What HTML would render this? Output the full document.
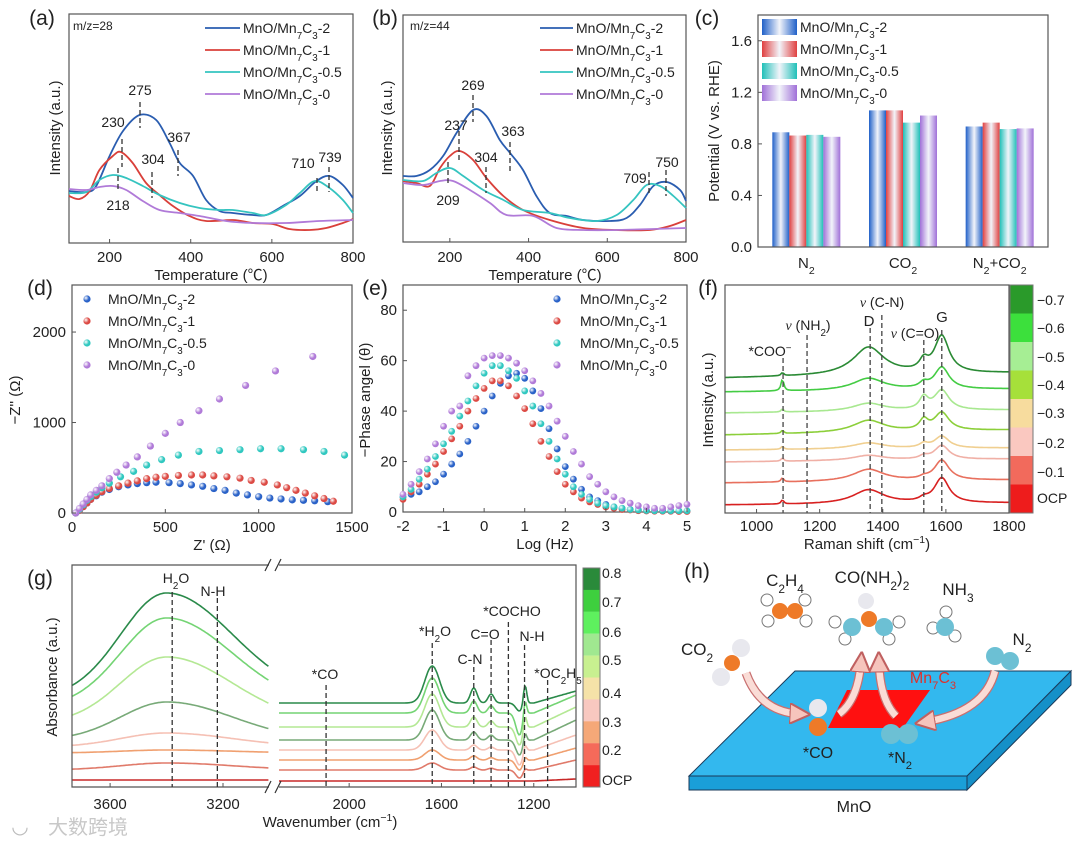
<!DOCTYPE html>
<html><head><meta charset="utf-8"><style>
html,body{margin:0;padding:0;background:#fff;}
svg{display:block;font-family:"Liberation Sans","Noto Sans CJK SC",sans-serif;}
</style></head><body>
<svg id="fig" width="1080" height="845" viewBox="0 0 1080 845" xmlns="http://www.w3.org/2000/svg">
<defs>
<marker id="ah" viewBox="0 0 10 10" refX="5" refY="5" markerWidth="3.2" markerHeight="3.2" orient="auto"><path d="M0,0 L10,5 L0,10 Z" fill="#f6c4bc" stroke="#c06060" stroke-width="1"/></marker>
</defs>
</svg>
<script>
// ---------- DATA ----------
// (a) TPD m/z=28
const aBlueT=[100,143,167,200,233,274,315,348,373,406,438,471,504,553,586,627,669,710,742,775,800];
const aBlueI=[52,51,57,87,112,128,123,100,80,67,43,32,30,28,28,37,47,62,67,58,45];
const aRedT=[100,126,151,175,208,228,257,290,323,356,397,438,504,553,602,643,693,734,775,800];
const aRedI=[47,44,52,73,87,91,80,60,48,37,27,22,23,20,19,14,13,15,20,24];
const aCyanT=[100,143,175,208,241,282,323,373,422,471,504,553,586,635,669,706,742,775,800];
const aCyanI=[50,51,63,68,65,57,48,40,35,33,33,30,28,38,50,62,55,43,30];
const aPurpT=[100,143,175,208,241,282,323,373,422,487,553,635,717,800];
const aPurpI=[54,53,56,57,53,42,33,30,27,22,20,20,22,23];
// (b) TPD m/z=44
const bBlueT=[81,115,149,183,217,259,293,327,353,386,420,454,497,539,607,649,683,717,751,785,800];
const bBlueI=[66,66,72,86,109,132,126,102,89,72,46,29,26,22,21,24,37,56,60,52,41];
const bRedT=[81,115,149,175,200,225,259,293,336,386,454,539,624,708,759,800];
const bRedI=[61,59,56,74,86,91,82,64,46,32,22,14,12,12,16,22];
const bCyanT=[81,132,166,200,234,285,336,386,454,505,573,624,666,700,734,768,800];
const bCyanI=[62,61,69,74,66,52,42,32,29,24,21,27,42,57,56,46,34];
const bPurpT=[81,132,175,208,251,302,344,412,471,539,624,800];
const bPurpI=[59,57,61,61,52,39,27,26,14,12,12,14];
// (c) onset potentials
const cCategories=["N2","CO2","N2+CO2"];
const cSeries2=[0.89,1.06,0.935];
const cSeries1=[0.865,1.06,0.965];
const cSeries05=[0.87,0.965,0.915];
const cSeries0=[0.855,1.02,0.92];
const cTicks=[0,0.4,0.8,1.2,1.6];
// (d) Nyquist
const dBlueX=[20,40,60,80,100,130,160,200,250,300,350,400,450,520,580,640,700,760,820,880,940,1000,1060,1120,1180,1240,1300,1370];
const dBlueY=[0,30,70,110,150,190,230,260,290,310,325,335,340,335,325,310,295,270,250,220,200,180,165,155,145,140,135,125];
const dRedX=[20,40,60,80,100,130,160,200,250,300,350,400,450,500,570,640,700,760,830,900,960,1030,1100,1150,1200,1250,1300,1350,1400];
const dRedY=[0,30,70,110,150,195,235,270,300,330,355,380,395,405,415,420,420,410,400,385,360,340,310,280,250,220,190,160,130];
const dCyanX=[20,40,60,80,100,130,160,200,260,330,400,480,570,680,790,900,1010,1120,1240,1350,1460];
const dCyanY=[0,40,90,140,180,230,280,330,400,460,530,590,640,680,690,700,710,710,700,680,640];
const dPurpX=[20,40,60,80,100,130,160,200,240,290,350,420,500,580,680,790,930,1090,1290];
const dPurpY=[0,50,100,150,200,250,300,380,450,530,620,740,880,1000,1130,1260,1410,1570,1730];
// (e) Bode phase
const eLogF=[-2,-1.8,-1.6,-1.4,-1.2,-1,-0.8,-0.6,-0.4,-0.2,0,0.2,0.4,0.6,0.8,1,1.2,1.4,1.6,1.8,2,2.2,2.4,2.6,2.8,3,3.2,3.4,3.6,3.8,4,4.2,4.4,4.6,4.8,5];
const eBlue=[6,7,8,10,12,15,19,23,28,34,40,46,51,54,55,53,48,41,33,25,18,13,9,6,4.5,3,2,1.5,1,0.8,0.5,0.5,0.4,0.3,0.3,0.3];
const eRed=[5,8,11,15,19,24,29,34,40,45,49,52,52,50,46,41,35,28,22,16,11,8,5.5,4,3,2,1.5,1,0.8,0.5,0.4,0.3,0.3,0.3,0.2,0.2];
const eCyan=[6,9,13,17,22,27,32,38,44,50,55,58,58,56,53,48,42,35,28,21,15,10,7,5,3.5,2.5,2,1.5,1,0.8,0.6,0.5,0.5,0.5,0.5,0.5];
const ePurp=[7,11,16,21,27,34,40,42,54,58,61,62,62,61,59,56,52,47,42,36,30,24,19,14,11,8,6,4.5,3.5,2.5,2,1.5,1.5,2,2.5,3];
// (f) Raman, bottom (OCP) to top (-0.7)
const fPotentials=["OCP","−0.1","−0.2","−0.3","−0.4","−0.5","−0.6","−0.7"];
const fBaseline=[8,30,51,63,78,100,121,135];
const fD=[14,12,5,6,12,8,12,28];
const fG=[25,20,14,12,18,20,22,37];
const fCOO=[4,4,3,3,3,3,12,3];
const fCO=[3,2,3,4,10,12,5,10];
const fRise=[2,3,3,2,5,3,3,5];
// (g) ATR-FTIR, bottom (OCP) to top (0.8)
const gBaseL=[7,17,34,40,47,64,80,89];
const gPeakL=[7,24,37,54,85,130,169,194];
const gBaseR=[6,17,27,37,47,60,74,84];
const gH2O=[0,7,10,20,30,33,35,37];
const gCN=[0,3,4,5,8,10,12,15];
const gDip=[0,8,10,15,15,18,22,8];
const gNH=[0,3,5,8,10,15,17,20];
const gRise=[2,10,12,15,20,20,18,12];
const gCbarLabels=["0.8","0.7","0.6","0.5","0.4","0.3","0.2","OCP"];

// ---------- HELPERS ----------
const NS='http://www.w3.org/2000/svg';
const svg=document.getElementById('fig');
function mk(tag,attrs,name,parent){
  const el=document.createElementNS(NS,tag);
  for(const k in attrs) el.setAttribute(k,attrs[k]);
  
  
  (parent||svg).appendChild(el);
  return el;
}
function txt(x,y,s,opts,name){
  const t=mk('text',Object.assign({x:x,y:y,'font-size':14,'text-anchor':'middle',fill:'#222'},opts||{}),name);
  t.innerHTML=s;return t;
}
const sub=s=>`<tspan baseline-shift="sub" font-size="70%">${s}</tspan>`;
const sup=s=>`<tspan baseline-shift="super" font-size="70%">${s}</tspan>`;
const NAMES=['2','1','0.5','0'].map(s=>`MnO/Mn${sub('7')}C${sub('3')}-${s}`);
const COLS=['#2a5db0','#d9403a','#35c4c0','#b07ad8'];
function lin(d0,d1,r0,r1){return v=>r0+(v-d0)*(r1-r0)/(d1-d0);}
function smooth(p){
  let d=`M${p[0][0].toFixed(1)},${p[0][1].toFixed(1)}`;
  for(let i=0;i<p.length-1;i++){
    const p0=p[i-1]||p[i],p1=p[i],p2=p[i+1],p3=p[i+2]||p2;
    const c1=[p1[0]+(p2[0]-p0[0])/6,p1[1]+(p2[1]-p0[1])/6];
    const c2=[p2[0]-(p3[0]-p1[0])/6,p2[1]-(p3[1]-p1[1])/6];
    d+=` C${c1[0].toFixed(1)},${c1[1].toFixed(1)} ${c2[0].toFixed(1)},${c2[1].toFixed(1)} ${p2[0].toFixed(1)},${p2[1].toFixed(1)}`;
  }
  return d;
}
function frame(x0,y0,x1,y1,name){mk('rect',{x:x0,y:y0,width:x1-x0,height:y1-y0,fill:'none',stroke:'#555','stroke-width':1.2},name);}
function xticks(vals,xs,y1,ty,name,fmt){vals.forEach(v=>{mk('line',{x1:xs(v),x2:xs(v),y1:y1,y2:y1-4,stroke:'#555'},name+'-tick');txt(xs(v),ty,fmt?fmt(v):v,{'font-size':15},name+'-label');});}
function yticks(vals,ys,x0,tx,name,fmt){vals.forEach(v=>{mk('line',{x1:x0,x2:x0+4,y1:ys(v),y2:ys(v),stroke:'#555'},name+'-tick');txt(tx,ys(v)+5,fmt?fmt(v):v,{'font-size':15,'text-anchor':'end'},name+'-label');});}
function ylabel(x,y,s,name){txt(x,y,s,{'font-size':15,transform:`rotate(-90 ${x} ${y})`},name);}
function panel(x,y,s){txt(x,y,s,{'font-size':21},'panel-label-'+s.replace(/[()]/g,''));}
function dash(x,y0,y1,name,col){mk('line',{x1:x,x2:x,y1:y0,y2:y1,stroke:col||'#333','stroke-width':1.3,'stroke-dasharray':'5,3'},name);}

// ---------- (a) ----------
(function(){
  const xs=lin(100,800,69,353), ys=lin(0,229,243,14);
  frame(69,14,353,243,'panel-a-frame');
  [[aBlueT,aBlueI],[aRedT,aRedI],[aCyanT,aCyanI],[aPurpT,aPurpI]].forEach((s,i)=>{
    mk('path',{d:smooth(s[0].map((t,j)=>[xs(t),ys(s[1][j])])),fill:'none',stroke:COLS[i],'stroke-width':1.8},'tpd28-curve-'+i);
  });
  xticks([200,400,600,800],xs,243,262,'a-x');
  txt(211,280,'Temperature (℃)',{'font-size':15},'a-x-title');
  ylabel(60,128,'Intensity (a.u.)','a-y-title');
  txt(73,30,'m/z=28',{'font-size':12,'text-anchor':'start'},'a-mz');
  NAMES.forEach((n,i)=>{const y=28+i*22;mk('line',{x1:205,x2:240,y1:y,y2:y,stroke:COLS[i],'stroke-width':1.8},'a-legend-line');txt(243,y+5,n,{'font-size':14,'text-anchor':'start'},'a-legend-entry');});
  [[140,95,'275',140,102,128],[113,127,'230',122,139,167],[153,164,'304',152,172,198],[179,142,'367',178,150,176],[118,210,'218',118,168,190],[303,168,'710',317,178,193],[330,162,'739',329,167,192]].forEach(a=>{txt(a[0],a[1],a[2],{'font-size':14},'a-peak-label');dash(a[3],a[4],a[5],'a-peak-marker');});
  panel(42,25,'(a)');
})();
// ---------- (b) ----------
(function(){
  const xs=lin(81,800,403,686), ys=lin(0,227,242,15);
  frame(403,15,686,242,'panel-b-frame');
  [[bBlueT,bBlueI],[bRedT,bRedI],[bCyanT,bCyanI],[bPurpT,bPurpI]].forEach((s,i)=>{
    mk('path',{d:smooth(s[0].map((t,j)=>[xs(t),ys(s[1][j])])),fill:'none',stroke:COLS[i],'stroke-width':1.8},'tpd44-curve-'+i);
  });
  xticks([200,400,600,800],xs,242,262,'b-x');
  txt(545,280,'Temperature (℃)',{'font-size':15},'b-x-title');
  ylabel(392,128,'Intensity (a.u.)','b-y-title');
  txt(410,30,'m/z=44',{'font-size':12,'text-anchor':'start'},'b-mz');
  NAMES.forEach((n,i)=>{const y=28+i*22;mk('line',{x1:540,x2:573,y1:y,y2:y,stroke:COLS[i],'stroke-width':1.8},'b-legend-line');txt(576,y+5,n,{'font-size':14,'text-anchor':'start'},'b-legend-entry');});
  [[473,90,'269',473,95,122],[456,130,'237',459,131,160],[486,162,'304',486,167,193],[513,136,'363',510,142,172],[448,205,'209',448,162,183],[635,183,'709',649,172,196],[667,167,'750',666,170,196]].forEach(a=>{txt(a[0],a[1],a[2],{'font-size':14},'b-peak-label');dash(a[3],a[4],a[5],'b-peak-marker');});
  panel(385,25,'(b)');
})();
// ---------- (c) ----------
(function(){
  const defs=svg.querySelector('defs');
  const dark=['#2060c8','#e04040','#20c0b8','#a070d8'];
  dark.forEach((c,i)=>{const g=mk('linearGradient',{id:'cg'+i,x1:0,x2:1,y1:0,y2:0},'bar-gradient',defs);
    mk('stop',{offset:'0',   'stop-color':c},'stop',g);mk('stop',{offset:'0.5','stop-color':'#f2f4fa'},'stop',g);mk('stop',{offset:'1','stop-color':c},'stop',g);});
  const ys=lin(0,1.8,247,15);
  const band=290/cCategories.length, bw=17;
  const xc=i=>758+band*(i+0.5);
  [cSeries2,cSeries1,cSeries05,cSeries0].forEach((s,k)=>{
    s.forEach((v,i)=>{mk('rect',{x:xc(i)-2*bw+k*bw,y:ys(v),width:bw,height:ys(0)-ys(v),fill:`url(#cg${k})`},'bar-'+cCategories[i]+'-'+k);});
  });
  frame(758,15,1048,247,'panel-c-frame');
  yticks(cTicks,ys,758,752,'c-y',v=>v.toFixed(1));
  const catLbl=[`N${sub('2')}`,`CO${sub('2')}`,`N${sub('2')}+CO${sub('2')}`];
  cCategories.forEach((c,i)=>txt(xc(i),268,catLbl[i],{'font-size':15},'c-x-label'));
  ylabel(719,131,'Potential (V vs. RHE)','c-y-title');
  NAMES.forEach((n,i)=>{const y=27+i*22;mk('rect',{x:762,y:y-8,width:35,height:16,fill:`url(#cg${i})`},'c-legend-swatch');txt(800,y+5,n,{'font-size':14,'text-anchor':'start'},'c-legend-entry');});
  panel(707,25,'(c)');
})();
// ---------- (d) ----------
function ballGrad(id,c){const defs=svg.querySelector('defs');const g=mk('radialGradient',{id:id,cx:'0.35',cy:'0.35',r:'0.7'},'ball-gradient',defs);mk('stop',{offset:'0','stop-color':'#ffffff'},'stop',g);mk('stop',{offset:'0.6','stop-color':c},'stop',g);mk('stop',{offset:'1','stop-color':c},'stop',g);}
['#2a62c8','#dc4a44','#30c8c0','#b07ad8'].forEach((c,i)=>ballGrad('bg'+i,c));
(function(){
  const xs=lin(0,1500,72,352), ys=lin(0,2520,513,285);
  frame(72,285,352,513,'panel-d-frame');
  [[dBlueX,dBlueY],[dRedX,dRedY],[dCyanX,dCyanY],[dPurpX,dPurpY]].forEach((s,i)=>{
    s[0].forEach((x,j)=>mk('circle',{cx:xs(x),cy:ys(s[1][j]),r:3.6,fill:`url(#bg${i})`},'nyquist-point-'+i));
  });
  xticks([0,500,1000,1500],xs,513,532,'d-x');
  yticks([0,1000,2000],ys,72,66,'d-y');
  txt(212,550,"Z' (Ω)",{'font-size':15},'d-x-title');
  ylabel(20,400,"−Z'' (Ω)",'d-y-title');
  NAMES.forEach((n,i)=>{const y=299+i*22;mk('circle',{cx:87,cy:y,r:3.6,fill:`url(#bg${i})`},'d-legend-marker');txt(108,y+5,n,{'font-size':14,'text-anchor':'start'},'d-legend-entry');});
  panel(40,295,'(d)');
})();
// ---------- (e) ----------
(function(){
  const xs=lin(-2,5,403,687), ys=lin(0,90,512,285);
  frame(403,285,687,512,'panel-e-frame');
  [eBlue,eRed,eCyan,ePurp].forEach((s,i)=>{
    s.forEach((v,j)=>mk('circle',{cx:xs(eLogF[j]),cy:ys(v),r:3.4,fill:`url(#bg${i})`},'bode-point-'+i));
  });
  xticks([-2,-1,0,1,2,3,4,5],xs,512,531,'e-x');
  yticks([0,20,40,60,80],ys,403,397,'e-y');
  txt(545,549,'Log (Hz)',{'font-size':15},'e-x-title');
  ylabel(370,400,'−Phase angel (θ)','e-y-title');
  NAMES.forEach((n,i)=>{const y=299+i*22;mk('circle',{cx:557,cy:y,r:3.6,fill:`url(#bg${i})`},'e-legend-marker');txt(580,y+5,n,{'font-size':14,'text-anchor':'start'},'e-legend-entry');});
  panel(375,295,'(e)');
})();
// ---------- (f) ----------
(function(){
  const xs=lin(900,1800,725,1009);
  const ys=v=>513-v;
  const cols=['#d82020','#e8705e','#f0b0a6','#f0cf90','#8ccf3a','#a8e890','#44cc44','#2a8a34'];
  const L=(x,c,g)=>g*g/((x-c)*(x-c)+g*g);
  fBaseline.forEach((b,i)=>{
    const pts=[];
    for(let x=900;x<=1800;x+=5){
      const v=b+fRise[i]*(x-900)/900+fD[i]*L(x,1355,60)+fG[i]*L(x,1587,28)+fCOO[i]*L(x,1082,5)+fCO[i]*L(x,1530,16);
      pts.push(xs(x).toFixed(1)+','+ys(v).toFixed(1));
    }
    mk('polyline',{points:pts.join(' '),fill:'none',stroke:cols[i],'stroke-width':1.6},'raman-spectrum-'+fPotentials[i]);
  });
  [[1084,358],[1160,335],[1360,328],[1397,315],[1530,340],[1587,330]].forEach(d=>dash(xs(d[0]),d[1],513,'f-band-marker','#444'));
  txt(770,356,'*COO'+sup('−'),{'font-size':14},'f-label-coo');
  txt(808,330,'<tspan font-family="Liberation Serif" font-style="italic">ν</tspan> (NH'+sub('2')+')',{'font-size':14},'f-label-nh2');
  txt(869,326,'D',{'font-size':15},'f-label-d');
  txt(882,307,'<tspan font-family="Liberation Serif" font-style="italic">ν</tspan> (C-N)',{'font-size':14},'f-label-cn');
  txt(915,338,'<tspan font-family="Liberation Serif" font-style="italic">ν</tspan> (C=O)',{'font-size':14},'f-label-co');
  txt(942,322,'G',{'font-size':15},'f-label-g');
  frame(725,285,1009,513,'panel-f-frame');
  xticks([1000,1200,1400,1600,1800],xs,513,531,'f-x');
  txt(867,549,'Raman shift (cm'+sup('−1')+')',{'font-size':15},'f-x-title');
  ylabel(713,400,'Intensity (a.u.)','f-y-title');
  const cb=['#2a9a2a','#3ce03c','#a6ee94','#a6e03a','#f7dc9e','#fac8c0','#f26a5c','#ee1c1c'];
  cb.forEach((c,i)=>mk('rect',{x:1010,y:285+i*28.5,width:23,height:28.6,fill:c},'f-colorbar-block'));
  mk('rect',{x:1010,y:285,width:23,height:228,fill:'none',stroke:'#777'},'f-colorbar-frame');
  fPotentials.slice().reverse().forEach((p,i)=>txt(1037,[300,328,357,385,413,443,472,498][i]+5,p,{'font-size':14,'text-anchor':'start'},'f-colorbar-label'));
  panel(708,295,'(f)');
})();
// ---------- (g) ----------
(function(){
  const xsL=lin(3735,3037,72,269), xsR=lin(2304,1017,279,576);
  const ys=v=>787-v;
  const cols=['#c82828','#e07a6a','#f0a070','#f5c0b4','#78aa78','#b4e894','#74d474','#2a8a4a'];
  const G=(x,c,w)=>Math.exp(-((x-c)/w)*((x-c)/w));
  gBaseL.forEach((b,i)=>{
    const pl=[];
    for(let x=3735;x>=3037;x-=6){
      const w=x>3400?230:330;
      pl.push(xsL(x).toFixed(1)+','+ys(b+(gPeakL[i]-b)*G(x,3400,w)).toFixed(1));
    }
    mk('polyline',{points:pl.join(' '),fill:'none',stroke:cols[i],'stroke-width':1.6},'ftir-left-'+i);
    const pr=[];
    for(let x=2304;x>=1017;x-=5){
      const v=gBaseR[i]+gH2O[i]*G(x,1640,45)+gCN[i]*G(x,1460,20)+0.6*gCN[i]*G(x,1385,18)-gDip[i]*G(x,1262,22)+gNH[i]*G(x,1238,10)+gRise[i]*Math.max(0,(1200-x)/183);
      pr.push(xsR(x).toFixed(1)+','+ys(v).toFixed(1));
    }
    mk('polyline',{points:pr.join(' '),fill:'none',stroke:cols[i],'stroke-width':1.6},'ftir-right-'+i);
  });
  mk('path',{d:'M269,565 L72,565 L72,787 L269,787 M279,565 L576,565 L576,787 L279,787',fill:'none',stroke:'#555','stroke-width':1.2},'panel-g-frame');
  [565,787].forEach(y=>mk('path',{d:`M265,${y+6} L271,${y-6} M275,${y+6} L281,${y-6}`,stroke:'#333','stroke-width':1.2},'g-axis-break'));
  [[3380,592],[3220,598]].forEach(d=>dash(xsL(d[0]),d[1],787,'g-band-marker','#333'));
  [[2100,685],[1640,643],[1460,667],[1385,640],[1310,622],[1240,645],[1140,680]].forEach(d=>dash(xsR(d[0]),d[1],787,'g-band-marker','#333'));
  [3600,3200].forEach(v=>{mk('line',{x1:xsL(v),x2:xsL(v),y1:787,y2:783,stroke:'#555'},'g-x-tick');txt(xsL(v),809,v,{'font-size':15},'g-x-label');});
  [2000,1600,1200].forEach(v=>{mk('line',{x1:xsR(v),x2:xsR(v),y1:787,y2:783,stroke:'#555'},'g-x-tick');txt(xsR(v),809,v,{'font-size':15},'g-x-label');});
  txt(330,827,'Wavenumber (cm'+sup('−1')+')',{'font-size':15},'g-x-title');
  ylabel(57,677,'Absorbance (a.u.)','g-y-title');
  txt(176,583,'H'+sub('2')+'O',{'font-size':14},'g-label-h2o');
  txt(213,596,'N-H',{'font-size':14},'g-label-nh');
  txt(325,679,'*CO',{'font-size':14},'g-label-co');
  txt(435,636,'*H'+sub('2')+'O',{'font-size':14},'g-label-h2o-ads');
  txt(470,664,'C-N',{'font-size':14},'g-label-cn');
  txt(485,639,'C=O',{'font-size':14},'g-label-co2');
  txt(512,616,'*COCHO',{'font-size':14},'g-label-cocho');
  txt(532,641,'N-H',{'font-size':14},'g-label-nh2');
  txt(558,678,'*OC'+sub('2')+'H'+sub('5'),{'font-size':14},'g-label-oc2h5');
  const cb=['#2a8a3a','#3ecf3e','#5ef05e','#a0e890','#c8f090','#f5e2a8','#f8c8c0','#f5a878','#f56a5a','#f02020'];
  cb.forEach((c,i)=>mk('rect',{x:583,y:568+i*21.9,width:17,height:22,fill:c},'g-colorbar-block'));
  mk('rect',{x:583,y:568,width:17,height:219,fill:'none',stroke:'#777'},'g-colorbar-frame');
  gCbarLabels.forEach((l,i)=>txt(602,[573,602,632,660,693,722,750,780][i]+5,l,{'font-size':14,'text-anchor':'start'},'g-colorbar-label'));
  panel(40,585,'(g)');
  txt(20,833,'◡',{'font-size':20,fill:'#bbb'},'watermark-logo');
  txt(88,834,'大数跨境',{'font-size':20,fill:'#c8c8c8'},'watermark-text');
})();
// ---------- (h) ----------
(function(){
  panel(697,578,'(h)');
  mk('polygon',{points:'689,776 967,776 967,790 689,790',fill:'#1a9fd8',stroke:'#1a3a5a','stroke-width':1},'mno-slab-front');
  mk('polygon',{points:'967,776 1071,671 1071,685 967,790',fill:'#1590c8',stroke:'#1a3a5a','stroke-width':1},'mno-slab-side');
  mk('polygon',{points:'689,776 795,671 1071,671 967,776',fill:'#33b8ee',stroke:'#1a3a5a','stroke-width':1},'mno-slab-top');
  mk('polygon',{points:'828,728 847,690 930,690 903,728',fill:'#ff1010'},'mn7c3-region');
  txt(933,683,'Mn'+sub('7')+'C'+sub('3'),{'font-size':16,fill:'#e0302a'},'mn7c3-label');
  txt(854,812,'MnO',{'font-size':16},'mno-label');
  const arrow=(d,n)=>{mk('path',{d:d,fill:'none',stroke:'#c87070','stroke-width':9,'stroke-linecap':'butt'},n+'-outline');mk('path',{d:d,fill:'none',stroke:'#fadcd6','stroke-width':6.5,'marker-end':'url(#ah)'},n);};
  arrow('M746,673 Q760,712 800,714','arrow-co2-adsorb');
  arrow('M995,671 Q985,712 925,722','arrow-n2-adsorb');
  arrow('M839,714 Q858,700 861,662','arrow-up-1');
  arrow('M896,716 Q880,700 879,662','arrow-up-2');
  const ball=(x,y,r,c,n)=>mk('circle',{cx:x,cy:y,r:r,fill:c,stroke:c==='#fff'?'#777':'none','stroke-width':1},n);
  const W='#e8e8ee',O='#ee7a28',B='#6cc0d4';
  ball(741,648,9,W,'co2-o1');ball(732,663,8,O,'co2-c');ball(721,677,9,W,'co2-o2');
  txt(697,655,'CO'+sub('2'),{'font-size':17},'co2-label');
  [[767,600],[768,621],[805,600],[806,621]].forEach(p=>ball(p[0],p[1],6,'#fff','c2h4-h'));
  ball(780,611,8,O,'c2h4-c');ball(795,611,8,O,'c2h4-c');
  txt(785,586,'C'+sub('2')+'H'+sub('4'),{'font-size':17},'c2h4-label');
  [[835,622],[845,639],[899,622],[889,639]].forEach(p=>ball(p[0],p[1],6,'#fff','urea-h'));
  ball(866,601,8,W,'urea-o');ball(852,627,9,B,'urea-n');ball(884,627,9,B,'urea-n');ball(869,619,8,O,'urea-c');
  txt(872,583,'CO(NH'+sub('2')+')'+sub('2'),{'font-size':17},'urea-label');
  [[933,628],[946,612],[955,636]].forEach(p=>ball(p[0],p[1],6,'#fff','nh3-h'));
  ball(945,627,9,B,'nh3-n');
  txt(958,595,'NH'+sub('3'),{'font-size':17},'nh3-label');
  ball(995,656,9,B,'n2-n');ball(1010,661,9,B,'n2-n');
  txt(1022,645,'N'+sub('2'),{'font-size':17},'n2-label');
  ball(818,708,9,W,'ads-co-o');ball(818,727,9,O,'ads-co-c');
  txt(818,758,'*CO',{'font-size':16},'ads-co-label');
  ball(891,734,10,B,'ads-n2');ball(908,734,10,B,'ads-n2');
  txt(900,763,'*N'+sub('2'),{'font-size':16},'ads-n2-label');
})();
</script>
</body></html>
